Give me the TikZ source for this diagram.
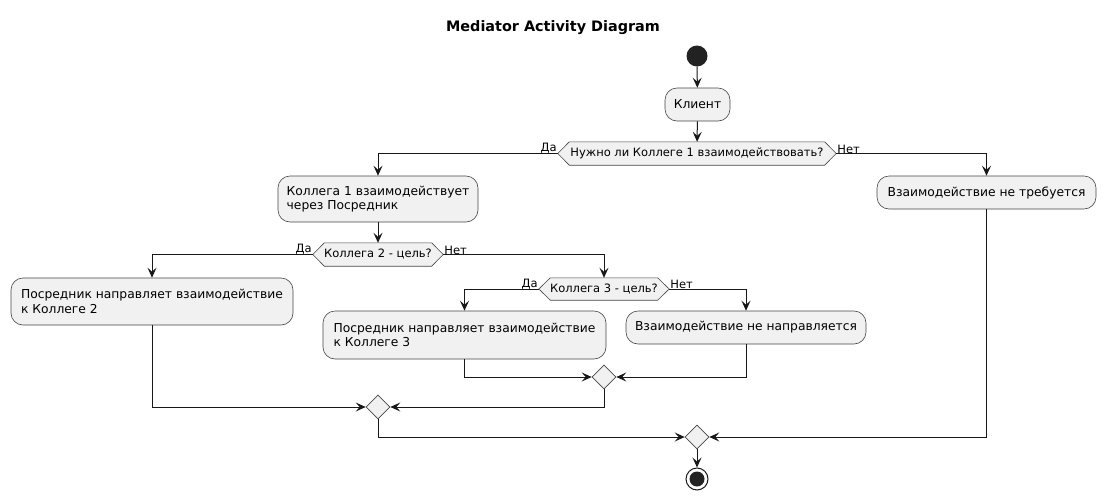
\documentclass[tikz,border=0pt]{standalone}
\usepackage{fontspec}
\setmainfont{DejaVu Sans}
\usetikzlibrary{arrows.meta,shapes.geometric}
\pgfdeclarelayer{background}
\pgfsetlayers{background,main}
\definecolor{boxfill}{HTML}{F1F1F1}
\definecolor{ink}{HTML}{181818}
\definecolor{dot}{HTML}{222222}
\tikzset{
  x=1pt, y=-1pt,
  actbox/.style={rectangle, rounded corners=12pt, fill=boxfill, draw=ink!80, line width=0.6pt,
    align=left, inner sep=0pt, font=\fontsize{12.3}{14.5}\selectfont},
  hexbox/.style={rectangle, inner sep=0pt, minimum height=23pt, font=\fontsize{11.5}{13}\selectfont},
  hexshape/.style={fill=boxfill, draw=ink!80, line width=0.6pt},
  merge/.style={diamond, fill=boxfill, draw=ink!80, line width=0.6pt, minimum width=24pt, minimum height=24pt, inner sep=0pt},
  arr/.style={draw=ink, line width=1pt, -{Stealth[length=10pt,width=9pt,inset=4pt]}},
  lbl/.style={font=\fontsize{11.5}{13}\selectfont, inner sep=1pt},
}
\newcommand{\hexdraw}[1]{%
  \begin{pgfonlayer}{background}
  \path[hexshape] (#1.west) -- ([xshift=11.5pt]#1.north west) -- ([xshift=-11.5pt]#1.north east)
    -- (#1.east) -- ([xshift=-11.5pt]#1.south east) -- ([xshift=11.5pt]#1.south west) -- cycle;
  \end{pgfonlayer}}
\begin{document}
\begin{tikzpicture}
\useasboundingbox (0,0) rectangle (1106,501);
\node[font=\bfseries\fontsize{14.4}{16}\selectfont] (title) at (553,28) {Mediator Activity Diagram};

\node[circle, fill=dot, minimum size=21pt, inner sep=0pt] (start) at (697,56) {};
\node[actbox, minimum width=65pt, minimum height=33pt] (klient) at (697.5,104.5) {Клиент};

\node[hexbox, minimum width=278pt] (d1) at (697,153.5) {Нужно ли Коллеге 1 взаимодействовать?};
\hexdraw{d1}
\node[actbox, minimum width=200pt, minimum height=46pt] (b1) at (378,199) {Коллега 1 взаимодействует\\через Посредник};
\node[actbox, minimum width=219pt, minimum height=33pt] (bR) at (986.5,192.5) {Взаимодействие не требуется};

\node[hexbox, minimum width=130pt] (d2) at (378,254.5) {Коллега 2 - цель?};
\hexdraw{d2}
\node[actbox, minimum width=282pt, minimum height=47pt] (b2) at (152,301.5) {Посредник направляет взаимодействие\\к Коллеге 2};

\node[hexbox, minimum width=130pt, minimum height=22pt] (d3) at (604,289) {Коллега 3 - цель?};
\hexdraw{d3}
\node[actbox, minimum width=283pt, minimum height=48pt] (b3) at (464.5,335) {Посредник направляет взаимодействие\\к Коллеге 3};
\node[actbox, minimum width=240pt, minimum height=33pt] (b4) at (746,327.5) {Взаимодействие не направляется};

\node[merge] (m3) at (604,377) {};
\node[merge] (m2) at (378,407) {};
\node[merge] (m1) at (697,437) {};

\node[circle, draw=ink, line width=1pt, minimum size=22pt, inner sep=0pt] (end) at (697,479) {};
\node[circle, fill=dot, minimum size=15pt, inner sep=0pt] (endin) at (end.center) {};

% labels
\node[lbl, anchor=south east] (l1y) at ([yshift=-1pt]d1.west) {Да};
\node[lbl, anchor=south west] (l1n) at ([yshift=-1pt]d1.east) {Нет};
\node[lbl, anchor=south east] (l2y) at ([yshift=-1pt]d2.west) {Да};
\node[lbl, anchor=south west] (l2n) at ([yshift=-1pt]d2.east) {Нет};
\node[lbl, anchor=south east] (l3y) at ([yshift=-1pt]d3.west) {Да};
\node[lbl, anchor=south west] (l3n) at ([yshift=-1pt]d3.east) {Нет};

% connectors
\draw[arr] (start) -- (klient);
\draw[arr] (klient) -- (d1);
\draw[arr] (d1.west) -| (b1.north);
\draw[arr] (d1.east) -| (bR.north);
\draw[arr] (b1) -- (d2);
\draw[arr] (d2.west) -| (b2.north);
\draw[arr] (d2.east) -| (d3.north);
\draw[arr] (d3.west) -| (b3.north);
\draw[arr] (d3.east) -| (b4.north);
\draw[arr] (b3.south) |- (m3.west);
\draw[arr] (b4.south) |- (m3.east);
\draw[arr] (b2.south) |- (m2.west);
\draw[arr] (m3.south) |- (m2.east);
\draw[arr] (m2.south) |- (m1.west);
\draw[arr] (bR.south) |- (m1.east);
\draw[arr] (m1) -- (end);
\end{tikzpicture}
\end{document}
